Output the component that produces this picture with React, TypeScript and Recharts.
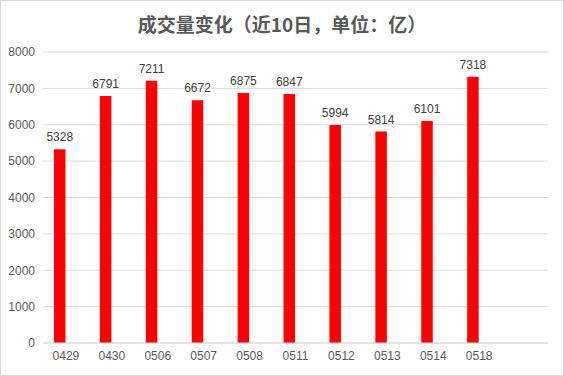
import { BarChart, Bar, XAxis, YAxis, CartesianGrid, LabelList } from "recharts"

const dates = ["0429", "0430", "0506", "0507", "0508", "0511", "0512", "0513", "0514", "0518", ""]
const volumes = [5328, 6791, 7211, 6672, 6875, 6847, 5994, 5814, 6101, 7318, null]
const yTicks = [0, 1000, 2000, 3000, 4000, 5000, 6000, 7000, 8000]

const chartData = dates.map((d, i) => ({ date: d, volume: volumes[i], blank: null }))

const font = "'Liberation Sans', Arial, sans-serif"

export default function App() {
  return (
    <div
      style={{
        position: "absolute",
        left: 0,
        top: 0,
        width: 564,
        height: 376,
        border: "1px solid #d9d9d9",
        boxSizing: "border-box",
        background: "#fff",
        fontFamily: font,
      }}
    >
      <div
        style={{
          position: "absolute",
          left: 0,
          top: 10,
          width: 562,
          textAlign: "center",
          fontFamily: "'Noto Sans CJK SC', sans-serif",
          fontWeight: "bold",
          fontSize: 19,
          lineHeight: "26px",
          color: "#595959",
        }}
      >
        成交量变化（近10日，单位：亿）
      </div>
      <div style={{ position: "absolute", left: -1, top: -1 }}>
        <BarChart
          width={564}
          height={376}
          data={chartData}
          margin={{ top: 52, right: 16, bottom: 0, left: 0 }}
          barGap={0}
        >
          <CartesianGrid vertical={false} stroke="#d9d9d9" />
          <XAxis
            dataKey="date"
            height={33}
            tickLine={false}
            axisLine={{ stroke: "#d9d9d9" }}
            tick={{ fill: "#595959", fontSize: 12, fontFamily: font }}
            interval={0}
          />
          <YAxis
            width={43}
            domain={[0, 8000]}
            ticks={yTicks}
            tickLine={false}
            axisLine={false}
            tick={{ fill: "#595959", fontSize: 12, fontFamily: font }}
          />
          <Bar dataKey="volume" fill="#ff0000" barSize={11.5} isAnimationActive={false}>
            <LabelList dataKey="volume" position="top" fill="#404040" fontSize={12} fontFamily={font} offset={8} />
          </Bar>
          <Bar dataKey="blank" fill="#ff0000" barSize={11.5} isAnimationActive={false} />
        </BarChart>
      </div>
    </div>
  )
}
